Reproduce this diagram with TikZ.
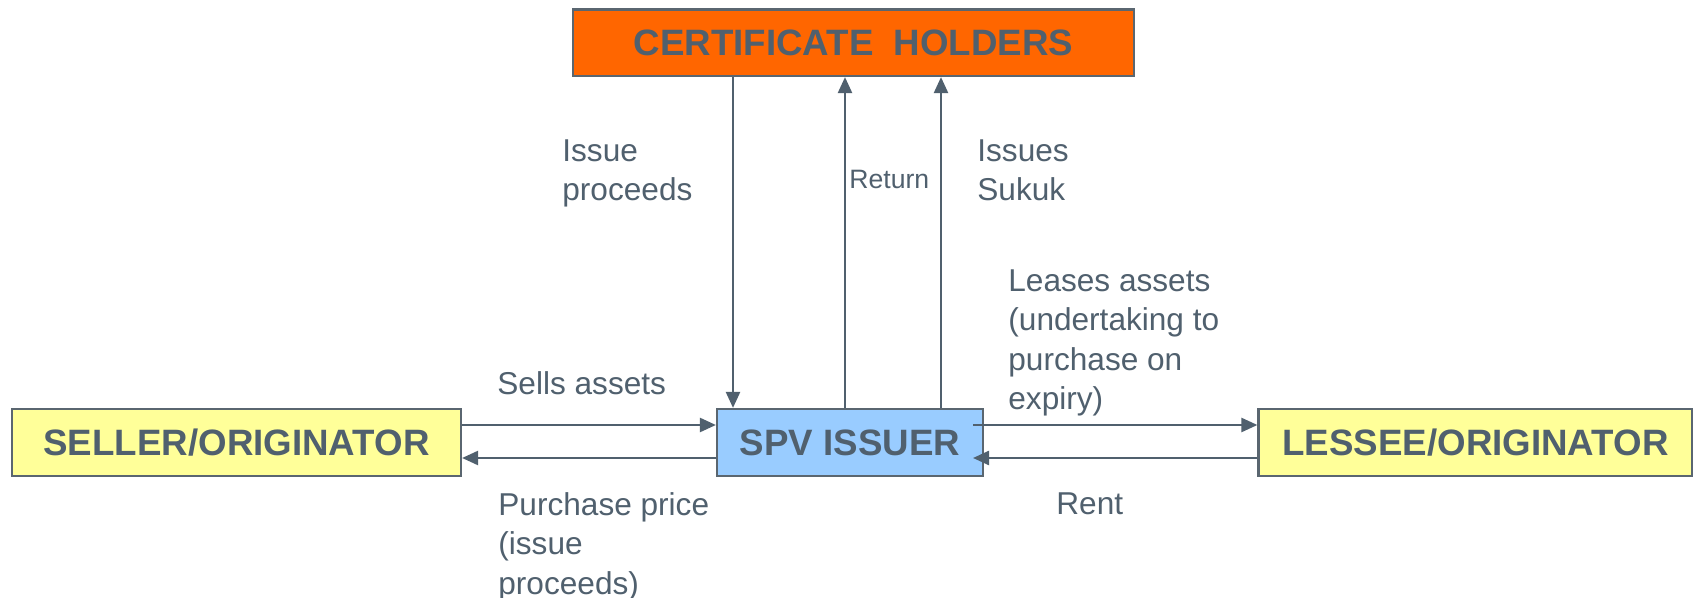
\documentclass[tikz,border=0pt]{standalone}
\usepackage{fontspec}
\setmainfont{Liberation Sans}
\usetikzlibrary{arrows.meta,calc}
\definecolor{ink}{RGB}{80,96,110}
\definecolor{edgegray}{RGB}{90,102,112}
\definecolor{orangefill}{RGB}{255,102,0}
\definecolor{yellowfill}{RGB}{255,255,153}
\definecolor{bluefill}{RGB}{153,204,255}
\begin{document}
\begin{tikzpicture}[x=0.5pt,y=-0.5pt,
  box/.style={draw=edgegray,line width=1.1pt,inner sep=0pt,text=ink,
    font=\fontsize{18.35}{22}\selectfont\bfseries,minimum height=33.5pt},
  lbl/.style={text=ink,inner sep=0pt,anchor=north west,align=left,
    font=\fontsize{15.8}{19.75}\selectfont},
  smalllbl/.style={text=ink,inner sep=0pt,anchor=north west,
    font=\fontsize{13.3}{16}\selectfont},
  flow/.style={draw=ink,line width=1.2pt,-{Triangle[length=8pt,width=7pt]}}]
\useasboundingbox (0,0) rectangle (1693,598);
\fill[white] (0,0) rectangle (1693,598);

\node[box,fill=orangefill,minimum width=280.5pt,minimum height=33.25pt] (cert) at (853.5,42.75) {CERTIFICATE\ \ HOLDERS};
\node[box,fill=bluefill,minimum width=133pt] (spv) at (850,442.5) {SPV ISSUER};
\node[box,fill=yellowfill,minimum width=224.5pt] (seller) at (236.5,442.5) {SELLER/ORIGINATOR};
\node[box,fill=yellowfill,minimum width=217pt] (lessee) at (1475.5,442.5) {LESSEE/ORIGINATOR};

\coordinate (cA) at (733,0);
\coordinate (cB) at (845,0);
\coordinate (cC) at (941,0);
\coordinate (rU) at (0,425);
\coordinate (rL) at (0,458);
\coordinate (inU) at (973,425);
\coordinate (inL) at (973,458);

\draw[flow] (cert.south -| cA) -- (spv.north -| cA);
\draw[flow] (spv.north -| cB) -- (cert.south -| cB);
\draw[flow] (spv.north -| cC) -- (cert.south -| cC);
\draw[flow] (seller.east |- rU) -- (spv.west |- rU);
\draw[flow] (spv.west |- rL) -- (seller.east |- rL);
\draw[flow] (inU) -- (lessee.west |- inU);
\draw[flow] (lessee.west |- inL) -- (inL);

\node[lbl] (lIssue) at (562,139) {Issue\\proceeds};
\node[smalllbl] (lReturn) at (849,169.5) {Return};
\node[lbl] (lSukuk) at (977,139) {Issues\\Sukuk};
\node[lbl] (lLease) at (1008,269) {Leases assets\\(undertaking to\\purchase on\\expiry)};
\node[lbl] (lSells) at (497,371) {Sells assets};
\node[lbl] (lPrice) at (498,492) {Purchase price\\(issue\\proceeds)};
\node[lbl] (lRent) at (1056,492) {Rent};
\end{tikzpicture}
\end{document}
